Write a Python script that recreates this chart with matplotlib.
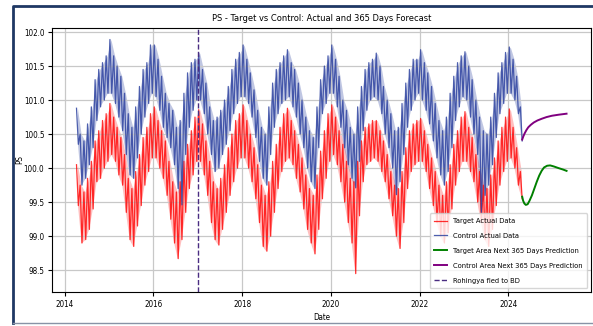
import matplotlib.pyplot as plt
import matplotlib.lines as mlines
import numpy as np
import pandas as pd

plt.rcParams['font.family'] = ['DejaVu Sans']
plt.rcParams['font.stretch'] = 'condensed'

# monthly envelope (high / low) of the daily series, Apr 2014 .. Apr 2024
months = pd.period_range('2014-04', '2024-04', freq='M')

target_hi = [
    100.05, 99.75, 99.65, 99.85, 100.1, 100.4, 100.55, 100.7, 100.8,
    100.95, 100.75, 100.6, 100.45, 100.2, 99.85, 99.7, 99.95, 100.2, 100.45, 100.6, 100.8,
    100.9, 100.7, 100.55, 100.4, 100.1, 99.8, 99.65, 99.8, 100.1, 100.35, 100.55, 100.75,
    100.86, 100.65, 100.4, 100.1, 99.8, 99.7, 99.85, 100.05, 100.3, 100.5, 100.7, 100.8,
    100.93, 100.7, 100.5, 100.3, 100.05, 99.75, 99.6, 99.8, 100.1, 100.35, 100.6, 100.8,
    100.88, 100.7, 100.55, 100.35, 100.15, 99.9, 99.7, 99.6, 99.9, 100.25, 100.55, 100.8,
    100.93, 100.75, 100.55, 100.35, 100.1, 99.85, 99.8, 100.1, 100.4, 100.6, 100.65, 100.7,
    100.7, 100.55, 100.4, 100.2, 99.95, 99.75, 99.7, 99.95, 100.3, 100.55, 100.65, 100.7,
    100.73, 100.55, 100.35, 100.15, 99.95, 99.75, 99.6, 99.8, 100.05, 100.35, 100.55, 100.75,
    100.83, 100.6, 100.45, 100.2, 99.95, 99.75, 99.7, 99.9, 100.15, 100.4, 100.6, 100.75,
    100.87, 100.6, 100.3, 99.95,
]
target_lo = [
    99.45, 98.9, 98.95, 99.1, 99.4, 99.8, 99.85, 100.0, 100.1,
    100.2, 100.1, 99.9, 99.75, 99.35, 98.95, 98.85, 99.15, 99.45, 99.75, 99.95, 100.15,
    100.15, 100.0, 99.85, 99.6, 99.25, 98.9, 98.67, 98.95, 99.35, 99.7, 99.9, 100.1,
    100.1, 99.9, 99.6, 99.2, 98.95, 98.87, 99.1, 99.35, 99.6, 99.8, 100.0, 100.15,
    100.15, 100.0, 99.8, 99.55, 99.2, 98.85, 98.78, 99.0, 99.35, 99.7, 99.95, 100.1,
    100.15, 100.05, 99.85, 99.65, 99.4, 99.1, 98.9, 98.74, 99.1, 99.55, 99.85, 100.1,
    100.2, 100.05, 99.8, 99.5, 99.2, 98.9, 98.45, 99.3, 99.8, 100.05, 100.1, 100.15,
    100.1, 99.95, 99.8, 99.55, 99.3, 99.0, 98.82, 99.2, 99.7, 99.95, 100.05, 100.1,
    100.1, 99.95, 99.7, 99.45, 99.2, 99.0, 98.9, 99.05, 99.4, 99.75, 99.95, 100.1,
    100.1, 99.95, 99.8, 99.5, 99.2, 98.95, 98.85, 99.1, 99.45, 99.75, 99.95, 100.1,
    100.15, 100.0, 99.75, 99.55,
]
control_hi = [
    100.88, 100.5, 100.4, 100.65, 100.9, 101.3, 101.45, 101.55, 101.65,
    101.89, 101.65, 101.5, 101.35, 101.1, 100.8, 100.6, 100.9, 101.2, 101.45, 101.55, 101.81,
    101.81, 101.6, 101.35, 101.1, 100.95, 100.85, 100.6, 100.7, 101.1, 101.4, 101.55, 101.6,
    101.69, 101.45, 101.25, 100.9, 100.7, 100.75, 100.85, 101.0, 101.2, 101.45, 101.6, 101.7,
    101.81, 101.6, 101.4, 101.15, 100.85, 100.6, 100.5, 100.9, 101.25, 101.45, 101.55, 101.65,
    101.74, 101.55, 101.45, 101.25, 101.0, 100.75, 100.55, 100.45, 100.9, 101.3, 101.5, 101.65,
    101.81, 101.6, 101.35, 101.0, 100.85, 100.6, 100.5, 100.9, 101.2, 101.45, 101.55, 101.6,
    101.69, 101.5, 101.2, 101.0, 100.8, 100.55, 100.6, 100.95, 101.25, 101.45, 101.6, 101.6,
    101.74, 101.55, 101.4, 101.2, 100.95, 100.7, 100.55, 100.75, 101.1, 101.35, 101.55, 101.65,
    101.71, 101.5, 101.3, 101.0, 100.75, 100.55, 100.5, 100.75, 101.1, 101.4, 101.55, 101.7,
    101.78, 101.6, 101.35, 100.9,
]
control_lo = [
    100.35, 99.75, 99.85, 100.05, 100.3, 100.7, 100.9, 101.0, 101.1,
    101.1, 100.95, 100.75, 100.55, 100.2, 99.9, 99.85, 100.15, 100.5, 100.75, 100.95, 101.1,
    101.05, 100.85, 100.6, 100.45, 100.3, 100.05, 99.7, 99.46, 100.2, 100.6, 100.85, 101.0,
    101.0, 100.8, 100.5, 100.2, 99.95, 100.0, 100.2, 100.35, 100.55, 100.8, 100.95, 101.05,
    101.05, 100.95, 100.75, 100.45, 100.1, 99.85, 99.75, 100.2, 100.6, 100.8, 100.95, 101.0,
    101.05, 100.9, 100.75, 100.5, 100.3, 100.0, 99.8, 99.7, 100.3, 100.8, 100.95, 101.1,
    101.1, 100.9, 100.6, 100.3, 100.05, 99.85, 99.71, 100.1, 100.55, 100.85, 101.0, 101.05,
    101.0, 100.8, 100.5, 100.3, 100.0, 99.61, 99.8, 100.2, 100.6, 100.85, 101.0, 101.1,
    101.0, 100.85, 100.65, 100.4, 100.15, 99.9, 99.75, 99.95, 100.3, 100.7, 100.9, 101.05,
    101.0, 100.75, 100.5, 100.2, 99.35, 99.6, 99.75, 100.05, 100.45, 100.8, 100.95, 101.1,
    101.1, 101.0, 100.8, 100.4,
]

# 365 day forecasts, read at day offsets from the last actual date
forecast_start = pd.Timestamp('2024-04-23')
target_fc_days = [0, 8, 18, 30, 45, 60, 80, 100, 120, 140, 160, 180, 205, 230, 260, 300, 335, 365]
target_fc = [99.58, 99.52, 99.48, 99.46, 99.47, 99.52, 99.6, 99.7, 99.8, 99.89, 99.96,
             100.01, 100.035, 100.04, 100.025, 100.0, 99.98, 99.96]
control_fc_days = [0, 10, 20, 35, 50, 70, 95, 125, 160, 200, 245, 300, 365]
control_fc = [100.42, 100.47, 100.51, 100.56, 100.6, 100.635, 100.67, 100.7, 100.725,
              100.75, 100.77, 100.785, 100.8]

event_date = pd.Timestamp('2017-01-01')


def zigzag(hi, lo):
    """Put each month's high on day 8 and its low on day 23."""
    dates, vals = [], []
    for m, h, l in zip(months, hi, lo):
        dates += [pd.Timestamp(m.year, m.month, 8), pd.Timestamp(m.year, m.month, 23)]
        vals += [h, l]
    return dates, vals


fig = plt.figure(figsize=(5.93, 3.26), dpi=100)
ax = fig.add_axes([0.0877, 0.1043, 0.909, 0.81])

mid_month = months.to_timestamp() + pd.Timedelta(days=15)

d, v = zigzag(target_hi, target_lo)
ax.fill_between(mid_month, target_lo, target_hi, color='red', alpha=0.25, lw=0)
ax.plot(d, v, color='red', alpha=0.8, lw=0.9, label='Target Actual Data')
d, v = zigzag(control_hi, control_lo)
ax.fill_between(mid_month, control_lo, control_hi, color='#2e43a0', alpha=0.3, lw=0)
ax.plot(d, v, color='#2e43a0', alpha=0.85, lw=0.9, label='Control Actual Data')

ax.plot(forecast_start + pd.to_timedelta(target_fc_days, unit='D'), target_fc,
        color='green', lw=1.4, label='Target Area Next 365 Days Prediction')
ax.plot(forecast_start + pd.to_timedelta(control_fc_days, unit='D'), control_fc,
        color='purple', lw=1.4, label='Control Area Next 365 Days Prediction')
ax.axvline(event_date, color='#4a2d82', ls='--', lw=1, label='Rohingya fled to BD')

ax.set_ylim(98.18, 102.06)
ax.set_title('PS - Target vs Control: Actual and 365 Days Forecast', fontsize=6.7, pad=5)
ax.set_xlabel('Date', fontsize=5.8, labelpad=3)
ax.set_ylabel('PS', fontsize=5.8)
ax.yaxis.set_label_coords(-0.052, 0.5)
ax.tick_params(labelsize=5.8, length=3, pad=2.5)
ax.grid(True, color='#c8c8c8', lw=0.9)
ax.legend(loc='lower right', fontsize=5.4, labelspacing=1.15, handlelength=1.7,
          borderpad=0.6)

# screenshot frame: dark top/left edge, thin light bottom edge
fig.add_artist(mlines.Line2D([12.5 / 593, 12.5 / 593, 1.0], [3 / 326, 320.5 / 326, 320.5 / 326],
                             transform=fig.transFigure, color='#1f3864', lw=2))
fig.add_artist(mlines.Line2D([12.5 / 593, 1.0], [3 / 326, 3 / 326],
                             transform=fig.transFigure, color='#8893a6', lw=1))

fig.savefig('out.png', dpi=100)
